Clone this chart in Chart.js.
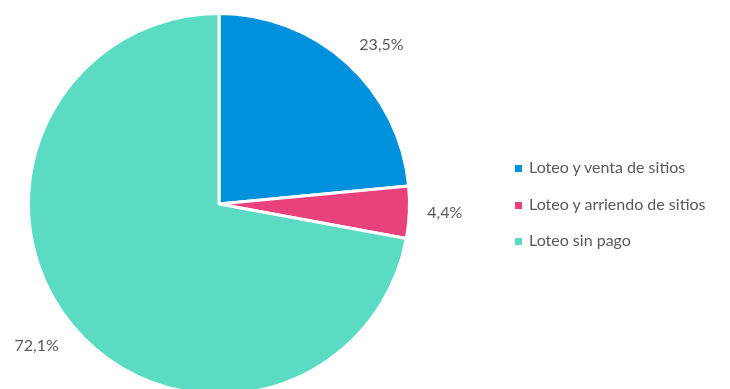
<!DOCTYPE html>
<html>
<head>
<meta charset="utf-8">
<script src="https://cdn.jsdelivr.net/npm/chart.js@4"></script>
<style>
  html, body { margin: 0; padding: 0; background: #fff; }
  #wrap { position: relative; width: 730px; height: 389px; overflow: hidden; }
  #pie { position: absolute; left: 0; top: 0; }
  #legend { position: absolute; left: 515px; top: 155px; font-family: Lato, sans-serif; font-size: 16px; color: #595959; }
  #legend div { height: 36.5px; line-height: 24px; white-space: nowrap; }
  #legend span.box { display: inline-block; width: 7px; height: 7px; margin-right: 7px; vertical-align: 1px; }
</style>
</head>
<body>
<div id="wrap">
  <canvas id="pie" width="730" height="410"></canvas>
  <div id="legend"></div>
</div>
<script>
const categories = ['Loteo y venta de sitios', 'Loteo y arriendo de sitios', 'Loteo sin pago'];
const shares = [23.5, 4.4, 72.1];
const colors = ['#0091dd', '#e9417b', '#5cdbc3'];

// labels sit just outside each slice, anchored by the side they face
const outsideLabels = {
  id: 'outsideLabels',
  afterDatasetsDraw(chart) {
    const ctx = chart.ctx;
    const meta = chart.getDatasetMeta(0);
    ctx.save();
    ctx.font = '16px Lato, sans-serif';
    ctx.fillStyle = '#595959';
    meta.data.forEach((arc, i) => {
      const mid = (arc.startAngle + arc.endAngle) / 2;
      const dx = Math.cos(mid), dy = Math.sin(mid);
      const r = arc.outerRadius + 18;
      const x = arc.x + dx * r, y = arc.y + dy * r;
      ctx.textAlign = dx > 0.3 ? 'left' : dx < -0.3 ? 'right' : 'center';
      ctx.textBaseline = dy < -0.3 ? 'bottom' : dy > 0.3 ? 'top' : 'middle';
      ctx.fillText(shares[i].toFixed(1).replace('.', ',') + '%', x, y + (dy < -0.3 ? 3 : 0));
    });
    ctx.restore();
  }
};

new Chart(document.getElementById('pie'), {
  type: 'pie',
  data: {
    labels: categories,
    datasets: [{
      data: shares,
      backgroundColor: colors,
      borderColor: '#ffffff',
      borderWidth: 3
    }]
  },
  options: {
    responsive: false,
    animation: false,
    layout: { padding: { left: 27, right: 319, top: 12, bottom: 14 } },
    plugins: {
      legend: { display: false },
      tooltip: { enabled: false }
    }
  },
  plugins: [outsideLabels]
});

const legend = document.getElementById('legend');
categories.forEach((name, i) => {
  const row = document.createElement('div');
  const box = document.createElement('span');
  box.className = 'box';
  box.style.background = colors[i];
  row.appendChild(box);
  row.appendChild(document.createTextNode(name));
  legend.appendChild(row);
});
</script>
</body>
</html>
